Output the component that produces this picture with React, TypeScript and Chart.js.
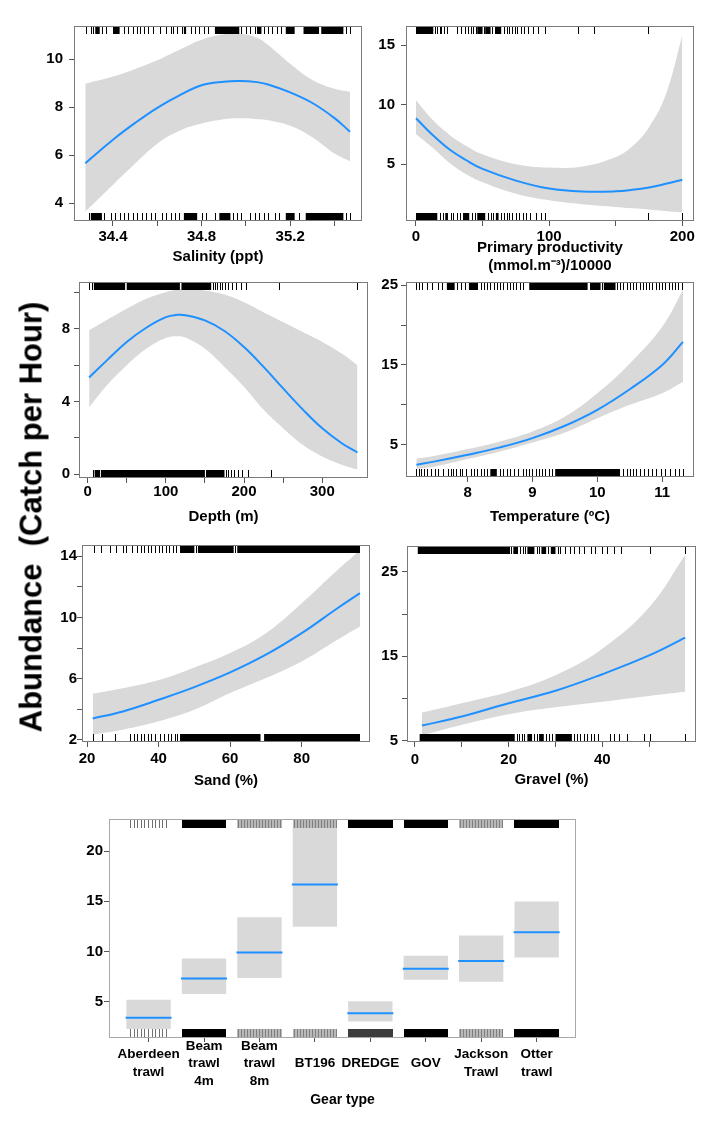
import React, { useEffect, useRef } from 'react';
import { Chart, registerables } from 'chart.js';

Chart.register(...registerables);

const FONT = '"Liberation Sans", Arial, Helvetica, sans-serif';
const BAND = '#d9d9d9';
const LINE = '#1e90ff';
const YW = 60;
const PT = 12;
const PR = 12;

// ---------------- Salinity ----------------
const salinityX = [34.275, 34.4, 34.5, 34.6, 34.7, 34.8, 34.9, 34.97, 35.05, 35.1, 35.2, 35.3, 35.4, 35.47];
const salinityFit = [5.67, 6.65, 7.35, 7.98, 8.5, 8.92, 9.07, 9.1, 9.05, 8.95, 8.62, 8.18, 7.55, 6.98];
const salinityUpper = [8.98, 9.28, 9.6, 9.96, 10.4, 10.82, 11.05, 11.08, 10.9, 10.6, 9.82, 9.14, 8.77, 8.64];
const salinityLower = [3.65, 4.77, 5.66, 6.48, 7.02, 7.32, 7.5, 7.54, 7.5, 7.46, 7.23, 6.75, 6.07, 5.75];
const salinityTicksX = [34.4, 34.6, 34.8, 35.0, 35.2, 35.4];
const salinityLabelsX = ['34.4', '', '34.8', '', '35.2', ''];
const salinityTicksY = [4, 6, 8, 10];
const salinityLabelsY = ['4', '6', '8', '10'];
const salinityRugTop = [34.28, 34.3, 34.31, 34.35, 34.37, 34.45, 34.47, 34.49, 34.51, 34.52, 34.54, 34.56, 34.58, 34.61, 34.64, 34.66, 34.67, 34.69, 34.71, 34.75, 34.77, 34.79, 34.81, 34.83, 34.98, 35.0, 35.02, 35.04, 35.08, 35.1, 35.12, 35.14, 35.16, 35.45, 35.47];
const salinityRugTopBlocks = [[34.32, 34.34], [34.4, 34.43], [34.72, 34.73], [34.86, 34.97], [35.05, 35.07], [35.18, 35.22], [35.26, 35.33], [35.34, 35.44]];
const salinityRugBottom = [34.29, 34.36, 34.39, 34.41, 34.43, 34.45, 34.47, 34.49, 34.51, 34.53, 34.55, 34.57, 34.59, 34.62, 34.64, 34.66, 34.68, 34.7, 34.8, 34.82, 34.86, 34.94, 34.96, 34.98, 35.02, 35.04, 35.06, 35.08, 35.1, 35.13, 35.15, 35.24, 35.45, 35.47];
const salinityRugBottomBlocks = [[34.3, 34.35], [34.72, 34.78], [34.88, 34.93], [35.18, 35.22], [35.27, 35.44]];

// ---------------- Primary productivity ----------------
const prodX = [0, 12.5, 25, 37.5, 50, 75, 100, 125, 150, 162.5, 175, 187.5, 200];
const prodFit = [8.85, 7.45, 6.25, 5.35, 4.6, 3.62, 2.95, 2.7, 2.72, 2.85, 3.05, 3.35, 3.7];
const prodUpper = [10.37, 8.72, 7.48, 6.55, 5.83, 5.0, 4.72, 4.8, 5.6, 6.5, 8.1, 10.8, 15.8];
const prodLower = [7.53, 6.37, 5.13, 4.17, 3.48, 2.52, 1.97, 1.64, 1.41, 1.3, 1.2, 1.07, 0.95];
const prodTicksX = [0, 50, 100, 150, 200];
const prodLabelsX = ['0', '', '100', '', '200'];
const prodTicksY = [5, 10, 15];
const prodLabelsY = ['5', '10', '15'];
const prodRugTop = [14, 16, 18, 19, 21, 23, 31, 34, 37, 39, 41, 43, 45, 48, 51, 57, 59, 66, 68, 70, 72, 74, 76, 79, 81, 84, 88, 92, 97, 122, 134, 174];
const prodRugTopBlocks = [[0, 13], [46, 50], [52, 56], [60, 64]];
const prodRugBottom = [18, 20, 26, 28, 31, 33, 35, 42, 44, 54, 56, 58, 64, 66, 68, 70, 72, 75, 77, 80, 83, 86, 90, 94, 97, 174, 200];
const prodRugBottomBlocks = [[0, 16], [22, 24], [36, 40], [46, 52], [60, 62]];

// ---------------- Depth ----------------
const depthX = [2, 25, 50, 75, 100, 115, 125, 150, 175, 200, 225, 250, 275, 300, 325, 345];
const depthFit = [5.32, 6.27, 7.27, 8.05, 8.63, 8.76, 8.74, 8.45, 7.87, 6.99, 5.9, 4.72, 3.57, 2.53, 1.71, 1.2];
const depthUpper = [7.91, 8.49, 9.09, 9.64, 10.0, 10.15, 10.19, 10.1, 9.87, 9.45, 8.9, 8.36, 7.81, 7.27, 6.63, 5.99];
const depthLower = [3.68, 4.9, 5.99, 6.9, 7.49, 7.58, 7.51, 6.9, 5.9, 4.81, 3.54, 2.53, 1.62, 0.98, 0.53, 0.26];
const depthTicksX = [0, 50, 100, 150, 200, 250, 300];
const depthLabelsX = ['0', '', '100', '', '200', '', '300'];
const depthTicksY = [0, 2, 4, 6, 8, 10];
const depthLabelsY = ['0', '', '4', '', '8', ''];
const depthRugTop = [2, 5, 160, 163, 166, 169, 172, 176, 180, 185, 190, 196, 203, 245, 345];
const depthRugTopBlocks = [[8, 48], [50, 118], [120, 158]];
const depthRugBottom = [7, 17, 151, 177, 180, 183, 187, 192, 197, 205, 234];
const depthRugBottomBlocks = [[9, 16], [18, 150], [152, 175]];

// ---------------- Temperature ----------------
const tempX = [7.21, 7.5, 8, 8.5, 9, 9.5, 10, 10.5, 11, 11.32];
const tempFit = [2.5, 2.92, 3.75, 4.67, 5.83, 7.38, 9.38, 11.96, 15.0, 17.9];
const tempUpper = [3.25, 3.63, 4.46, 5.42, 6.67, 8.54, 11.46, 15.2, 19.8, 24.4];
const tempLower = [2.0, 2.29, 3.21, 4.17, 5.29, 6.54, 8.33, 10.0, 11.46, 12.9];
const tempTicksX = [8, 9, 10, 11];
const tempLabelsX = ['8', '9', '10', '11'];
const tempTicksY = [5, 10, 15, 20, 25];
const tempLabelsY = ['5', '', '15', '', '25'];
const tempRugTop = [7.21, 7.25, 7.3, 7.37, 7.45, 7.55, 7.6, 7.84, 7.9, 7.96, 8.2, 8.25, 8.3, 8.35, 8.4, 8.45, 8.5, 8.55, 8.6, 8.65, 8.7, 8.75, 8.8, 8.85, 9.88, 10.07, 10.3, 10.35, 10.4, 10.45, 10.5, 10.55, 10.6, 10.65, 10.7, 10.75, 10.8, 10.85, 10.9, 10.95, 11.0, 11.05, 11.1, 11.15, 11.2, 11.25, 11.3];
const tempRugTopBlocks = [[7.68, 7.8], [8.02, 8.16], [8.95, 9.85], [9.9, 10.05], [10.1, 10.28]];
const tempRugBottom = [7.21, 7.25, 7.28, 7.32, 7.38, 7.44, 7.5, 7.55, 7.62, 7.7, 7.74, 7.78, 7.82, 7.88, 7.92, 7.98, 8.05, 8.1, 8.15, 8.2, 8.25, 8.3, 8.5, 8.55, 8.6, 8.66, 8.72, 8.78, 8.85, 8.9, 8.95, 9.0, 9.05, 9.1, 9.15, 9.2, 9.25, 9.3, 10.4, 10.45, 10.5, 10.55, 10.6, 10.65, 10.72, 10.78, 10.85, 10.9, 10.98, 11.05, 11.12, 11.2, 11.26, 11.32];
const tempRugBottomBlocks = [[8.35, 8.45], [9.35, 10.35]];

// ---------------- Sand ----------------
const sandX = [21.6, 30, 40, 50, 60, 70, 80, 90, 96.3];
const sandFit = [3.39, 3.85, 4.61, 5.44, 6.4, 7.56, 8.97, 10.6, 11.59];
const sandUpper = [5.0, 5.36, 5.9, 6.73, 7.67, 8.97, 10.93, 13.1, 14.4];
const sandLower = [2.33, 2.65, 3.2, 3.96, 5.05, 6.03, 7.12, 8.54, 9.41];
const sandTicksX = [20, 40, 60, 80];
const sandLabelsX = ['20', '40', '60', '80'];
const sandTicksY = [2, 4, 6, 8, 10, 12, 14];
const sandLabelsY = ['2', '', '6', '', '10', '', '14'];
const sandRugTop = [22, 24, 26.5, 28, 30, 31, 32.5, 34, 35, 36, 37, 38, 39, 40, 41, 42, 43, 44, 45, 50.5, 61.5];
const sandRugTopBlocks = [[46, 50], [51, 61], [62, 96.3]];
const sandRugBottom = [21.6, 24.2, 27.9, 32, 33, 34, 35, 36, 37, 38, 39, 40.5, 41.5, 42.5, 43.5, 44.5, 45.2];
const sandRugBottomBlocks = [[46, 68.5], [69.5, 96.3]];

// ---------------- Gravel ----------------
const gravelX = [1.5, 10, 20, 30, 40, 50, 57.7];
const gravelFit = [6.8, 7.86, 9.44, 10.92, 12.88, 15.1, 17.2];
const gravelUpper = [8.33, 9.44, 10.8, 12.76, 15.9, 20.8, 27.0];
const gravelLower = [5.62, 6.88, 8.14, 8.96, 9.62, 10.3, 10.8];
const gravelTicksX = [0, 10, 20, 30, 40, 50];
const gravelLabelsX = ['0', '', '20', '', '40', ''];
const gravelTicksY = [5, 10, 15, 20, 25];
const gravelLabelsY = ['5', '', '15', '', '25'];
const gravelRugTop = [20.6, 22.5, 23, 23.5, 26, 26.5, 28.5, 30.5, 31, 32, 33, 34, 35, 36, 37.5, 38.5, 40, 41, 42.5, 44, 50.2, 57.7];
const gravelRugTopBlocks = [[0.6, 20.3], [21, 22], [24, 25.5], [27, 28], [29, 30]];
const gravelRugBottom = [21.8, 22.3, 22.8, 23.3, 25.5, 26, 28, 28.6, 29.2, 34, 34.6, 35.3, 36, 36.8, 37.5, 38.2, 39, 41.6, 42.5, 43.6, 45.2, 48.9, 50.2, 57.7];
const gravelRugBottomBlocks = [[1, 21.3], [24, 25], [26.5, 27.5], [30, 33.5]];

// ---------------- Gear type ----------------
const gearPos = [1, 2, 3, 4, 5, 6, 7, 8];
const gearLabels = [['Aberdeen', 'trawl'], ['Beam', 'trawl', '4m'], ['Beam', 'trawl', '8m'], ['BT196'], ['DREDGE'], ['GOV'], ['Jackson', 'Trawl'], ['Otter', 'trawl']];
const gearFit = [3.4, 7.3, 9.9, 16.67, 3.85, 8.28, 9.06, 11.9];
const gearUpper = [5.19, 9.3, 13.4, 22.4, 5.03, 9.56, 11.6, 14.97];
const gearLower = [2.28, 5.75, 7.35, 12.47, 3.03, 7.19, 6.97, 9.4];
const gearTicksY = [5, 10, 15, 20];
const gearRugTop = ['sparse', 'black', 'gray', 'gray', 'black', 'black', 'gray', 'black'];
const gearRugBottom = ['sparse', 'black', 'gray', 'gray', 'dark', 'black', 'gray', 'black'];

type Box = { l: number; r: number; t: number; b: number };
type Spec = {
  box: Box;
  xRange: [number, number];
  yRange: [number, number];
  x: number[]; fit: number[]; upper: number[]; lower: number[];
  xTicks: number[]; xLabels: string[]; yTicks: number[]; yLabels: string[];
  title: string | string[];
  xPad: number; yPad: number; axisH: number;
  rugTop: number[]; rugTopBlocks: number[][]; rugBottom: number[]; rugBottomBlocks: number[][];
};

const panels: Spec[] = [
  { box: { l: 74, r: 362, t: 23, b: 221 }, xRange: [34.224, 35.524], yRange: [3.26, 11.39], x: salinityX, fit: salinityFit, upper: salinityUpper, lower: salinityLower, xTicks: salinityTicksX, xLabels: salinityLabelsX, yTicks: salinityTicksY, yLabels: salinityLabelsY, title: 'Salinity (ppt)', xPad: 2, yPad: 6, axisH: 45, rugTop: salinityRugTop, rugTopBlocks: salinityRugTopBlocks, rugBottom: salinityRugBottom, rugBottomBlocks: salinityRugBottomBlocks },
  { box: { l: 406, r: 694, t: 23, b: 221 }, xRange: [-7.5, 208.8], yRange: [0.23, 16.6], x: prodX, fit: prodFit, upper: prodUpper, lower: prodLower, xTicks: prodTicksX, xLabels: prodLabelsX, yTicks: prodTicksY, yLabels: prodLabelsY, title: ['Primary productivity', '(mmol.m\u207B\u00B3)/10000'], xPad: 2, yPad: 6, axisH: 54, rugTop: prodRugTop, rugTopBlocks: prodRugTopBlocks, rugBottom: prodRugBottom, rugBottomBlocks: prodRugBottomBlocks },
  { box: { l: 79, r: 368, t: 281, b: 478 }, xRange: [-11, 358.5], yRange: [-0.2, 10.56], x: depthX, fit: depthFit, upper: depthUpper, lower: depthLower, xTicks: depthTicksX, xLabels: depthLabelsX, yTicks: depthTicksY, yLabels: depthLabelsY, title: 'Depth (m)', xPad: 0, yPad: 4, axisH: 48, rugTop: depthRugTop, rugTopBlocks: depthRugTopBlocks, rugBottom: depthRugBottom, rugBottomBlocks: depthRugBottomBlocks },
  { box: { l: 406, r: 694, t: 282, b: 477 }, xRange: [7.05, 11.49], yRange: [0.96, 25.4], x: tempX, fit: tempFit, upper: tempUpper, lower: tempLower, xTicks: tempTicksX, xLabels: tempLabelsX, yTicks: tempTicksY, yLabels: tempLabelsY, title: 'Temperature (\u00BAC)', xPad: 2, yPad: 3, axisH: 49, rugTop: tempRugTop, rugTopBlocks: tempRugTopBlocks, rugBottom: tempRugBottom, rugBottomBlocks: tempRugBottomBlocks },
  { box: { l: 82, r: 370, t: 545, b: 742 }, xRange: [18.6, 99.1], yRange: [1.85, 14.74], x: sandX, fit: sandFit, upper: sandUpper, lower: sandLower, xTicks: sandTicksX, xLabels: sandLabelsX, yTicks: sandTicksY, yLabels: sandLabelsY, title: 'Sand (%)', xPad: 3, yPad: 0, axisH: 48, rugTop: sandRugTop, rugTopBlocks: sandRugTopBlocks, rugBottom: sandRugBottom, rugBottomBlocks: sandRugBottomBlocks },
  { box: { l: 407, r: 696, t: 545, b: 742 }, xRange: [-1.7, 60.0], yRange: [4.85, 28.06], x: gravelX, fit: gravelFit, upper: gravelUpper, lower: gravelLower, xTicks: gravelTicksX, xLabels: gravelLabelsX, yTicks: gravelTicksY, yLabels: gravelLabelsY, title: 'Gravel (%)', xPad: 4, yPad: 4, axisH: 47, rugTop: gravelRugTop, rugTopBlocks: gravelRugTopBlocks, rugBottom: gravelRugBottom, rugBottomBlocks: gravelRugBottomBlocks },
];

const tickFont = { family: FONT, size: 15, weight: 'bold' as const };

const rugPlugin = {
  id: 'rug',
  afterDatasetsDraw(chart: any, _args: any, opts: any) {
    const { ctx, chartArea } = chart;
    const { left, right, top, bottom } = chartArea;
    const xs = chart.scales.x;
    const len = 7;
    ctx.save();
    ctx.strokeStyle = '#000';
    ctx.fillStyle = '#000';
    ctx.lineWidth = 1;
    const lines = (vals: number[], y0: number, y1: number) => {
      ctx.beginPath();
      vals.forEach((v) => {
        const px = Math.round(xs.getPixelForValue(v)) + 0.5;
        ctx.moveTo(px, y0);
        ctx.lineTo(px, y1);
      });
      ctx.stroke();
    };
    const blocks = (bl: number[][], y0: number) => {
      bl.forEach(([a, b]) => {
        const xa = xs.getPixelForValue(a);
        const xb = xs.getPixelForValue(b);
        ctx.fillRect(xa, y0, Math.max(1, xb - xa), len);
      });
    };
    lines(opts.top || [], top + 1, top + len + 1);
    lines(opts.bottom || [], bottom - len - 1, bottom - 1);
    blocks(opts.topBlocks || [], top + 1);
    blocks(opts.bottomBlocks || [], bottom - len - 1);
    ctx.strokeStyle = opts.frame || '#7a7a7a';
    ctx.strokeRect(left + 0.5, top + 0.5, right - left - 1, bottom - top - 1);
    ctx.restore();
  },
};

const gearRugPlugin = {
  id: 'gearRug',
  afterDatasetsDraw(chart: any, _args: any, opts: any) {
    const { ctx, chartArea } = chart;
    const { left, right, top, bottom } = chartArea;
    const xs = chart.scales.x;
    const h = 8;
    ctx.save();
    const draw = (kind: string, pos: number, y0: number) => {
      const xa = Math.round(xs.getPixelForValue(pos - 0.4));
      const xb = Math.round(xs.getPixelForValue(pos + 0.4));
      if (kind === 'black') {
        ctx.fillStyle = '#000';
        ctx.fillRect(xa, y0, xb - xa, h);
      } else if (kind === 'dark') {
        ctx.fillStyle = '#3c3c3c';
        ctx.fillRect(xa, y0, xb - xa, h);
      } else if (kind === 'gray') {
        ctx.fillStyle = '#b8b8b8';
        ctx.fillRect(xa, y0, xb - xa, h);
        ctx.strokeStyle = '#808080';
        ctx.lineWidth = 1;
        ctx.beginPath();
        for (let p = xa + 1; p < xb; p += 3) {
          ctx.moveTo(p + 0.5, y0);
          ctx.lineTo(p + 0.5, y0 + h);
        }
        ctx.stroke();
      } else {
        ctx.strokeStyle = '#707070';
        ctx.lineWidth = 1;
        ctx.beginPath();
        for (let p = xa + 4; p < xb - 2; p += 3.6) {
          const q = Math.round(p) + 0.5;
          ctx.moveTo(q, y0);
          ctx.lineTo(q, y0 + h);
        }
        ctx.stroke();
      }
    };
    gearPos.forEach((p, i) => {
      draw(opts.top[i], p, top + 1);
      draw(opts.bottom[i], p, bottom - h - 1);
    });
    ctx.strokeStyle = '#a8a8a8';
    ctx.lineWidth = 1;
    ctx.strokeRect(left + 0.5, top + 0.5, right - left - 1, bottom - top - 1);
    ctx.restore();
  },
};

function canvasGeom(box: Box, axisH: number) {
  return {
    left: box.l - YW,
    top: box.t - PT,
    width: box.r - box.l + YW + PR,
    height: box.b - box.t + PT + axisH,
  };
}

function LinePanel({ spec }: { spec: Spec }) {
  const ref = useRef<HTMLCanvasElement>(null);
  const g = canvasGeom(spec.box, spec.axisH);
  useEffect(() => {
    const pts = (ys: number[]) => spec.x.map((v, i) => ({ x: v, y: ys[i] }));
    const chart = new Chart(ref.current as HTMLCanvasElement, {
      type: 'line',
      data: {
        datasets: [
          { data: pts(spec.upper), fill: '+1', backgroundColor: BAND, borderColor: 'rgba(0,0,0,0)', borderWidth: 0, pointRadius: 0, tension: 0.4, order: 2 },
          { data: pts(spec.lower), fill: false, backgroundColor: BAND, borderColor: 'rgba(0,0,0,0)', borderWidth: 0, pointRadius: 0, tension: 0.4, order: 3 },
          { data: pts(spec.fit), fill: false, borderColor: LINE, borderWidth: 2, pointRadius: 0, tension: 0.4, order: 0 },
        ],
      } as any,
      options: {
        responsive: false,
        animation: false,
        devicePixelRatio: 1,
        events: [],
        layout: { padding: { left: 0, top: PT, right: PR, bottom: 0 } },
        plugins: {
          legend: { display: false },
          tooltip: { enabled: false },
          rug: { top: spec.rugTop, topBlocks: spec.rugTopBlocks, bottom: spec.rugBottom, bottomBlocks: spec.rugBottomBlocks },
        } as any,
        scales: {
          x: {
            type: 'linear',
            min: spec.xRange[0],
            max: spec.xRange[1],
            afterBuildTicks: (s: any) => { s.ticks = spec.xTicks.map((v) => ({ value: v })); },
            afterFit: (s: any) => { s.height = spec.axisH; },
            ticks: { callback: (_v: any, i: number) => spec.xLabels[i], autoSkip: false, maxRotation: 0, minRotation: 0, padding: spec.xPad, color: '#000', font: tickFont },
            grid: { drawOnChartArea: false, drawTicks: true, tickLength: 5, color: '#555', tickWidth: 1 },
            border: { display: false },
            title: { display: true, text: spec.title, color: '#000', font: { family: FONT, size: 15, weight: 'bold' }, padding: 0 },
          },
          y: {
            type: 'linear',
            min: spec.yRange[0],
            max: spec.yRange[1],
            afterBuildTicks: (s: any) => { s.ticks = spec.yTicks.map((v) => ({ value: v })); },
            afterFit: (s: any) => { s.width = YW; },
            ticks: { callback: (_v: any, i: number) => spec.yLabels[i], autoSkip: false, padding: spec.yPad, color: '#000', font: tickFont },
            grid: { drawOnChartArea: false, drawTicks: true, tickLength: 5, color: '#555', tickWidth: 1 },
            border: { display: false },
          },
        } as any,
      },
      plugins: [rugPlugin],
    });
    return () => chart.destroy();
  }, []);
  return (
    <canvas
      ref={ref}
      width={g.width}
      height={g.height}
      style={{ position: 'absolute', left: g.left, top: g.top, width: g.width, height: g.height }}
    />
  );
}

const gearBox: Box = { l: 109, r: 589, t: 806, b: 1038 };
const gearAxisH = 71;

function GearPanel() {
  const ref = useRef<HTMLCanvasElement>(null);
  const g = canvasGeom(gearBox, gearAxisH);
  useEffect(() => {
    const chart = new Chart(ref.current as HTMLCanvasElement, {
      type: 'bar',
      data: {
        datasets: [
          {
            type: 'bar',
            data: gearPos.map((p, i) => ({ x: p, y: [gearLower[i], gearUpper[i]] })),
            backgroundColor: BAND,
            borderWidth: 0,
            barPercentage: 0.8,
            categoryPercentage: 1,
            order: 2,
          },
          {
            type: 'line',
            data: gearPos.map((p, i) => ({ x: p, y: gearFit[i] })),
            showLine: false,
            pointStyle: 'line',
            pointRadius: 23,
            pointBorderWidth: 2,
            pointBorderColor: LINE,
            borderColor: LINE,
            order: 1,
          },
        ],
      } as any,
      options: {
        responsive: false,
        animation: false,
        devicePixelRatio: 1,
        events: [],
        layout: { padding: { left: 0, top: PT, right: PR, bottom: 0 } },
        plugins: {
          legend: { display: false },
          tooltip: { enabled: false },
          gearRug: { top: gearRugTop, bottom: gearRugBottom },
        } as any,
        scales: {
          x: {
            type: 'linear',
            min: 0.286,
            max: 8.71,
            offset: false,
            afterBuildTicks: (s: any) => { s.ticks = gearPos.map((v) => ({ value: v })); },
            afterFit: (s: any) => { s.height = gearAxisH; },
            ticks: { callback: (_v: any, i: number) => gearLabels[i], autoSkip: false, maxRotation: 0, minRotation: 0, padding: 4, crossAlign: 'center', color: '#000', font: { family: FONT, size: 13.5, weight: 'bold', lineHeight: 1.3 } },
            grid: { offset: false, drawOnChartArea: false, drawTicks: true, tickLength: 4, color: '#555' },
            border: { display: false },
            title: { display: true, text: 'Gear type', color: '#000', font: { family: FONT, size: 14, weight: 'bold' }, padding: 0 },
          },
          y: {
            type: 'linear',
            min: 1.38,
            max: 23.19,
            afterBuildTicks: (s: any) => { s.ticks = gearTicksY.map((v) => ({ value: v })); },
            afterFit: (s: any) => { s.width = YW; },
            ticks: { callback: (v: any) => String(v), autoSkip: false, padding: 1, color: '#000', font: tickFont },
            grid: { drawOnChartArea: false, drawTicks: true, tickLength: 5, color: '#555' },
            border: { display: false },
          },
        } as any,
      },
      plugins: [gearRugPlugin],
    });
    return () => chart.destroy();
  }, []);
  return (
    <canvas
      ref={ref}
      width={g.width}
      height={g.height}
      style={{ position: 'absolute', left: g.left, top: g.top, width: g.width, height: g.height }}
    />
  );
}

export default function App() {
  return (
    <div style={{ position: 'absolute', left: 0, top: 0, width: 717, height: 1125, background: '#fff', overflow: 'hidden' }}>
      {panels.map((p, i) => (
        <LinePanel key={i} spec={p} />
      ))}
      <GearPanel />
      <div
        style={{
          position: 'absolute',
          left: 31,
          top: 517,
          transform: 'translate(-50%, -50%) rotate(-90deg)',
          whiteSpace: 'pre',
          fontFamily: FONT,
          fontWeight: 'bold',
          fontSize: 31,
          lineHeight: '31px',
          color: '#000',
        }}
      >
        {'Abundance  (Catch per Hour)'}
      </div>
    </div>
  );
}
